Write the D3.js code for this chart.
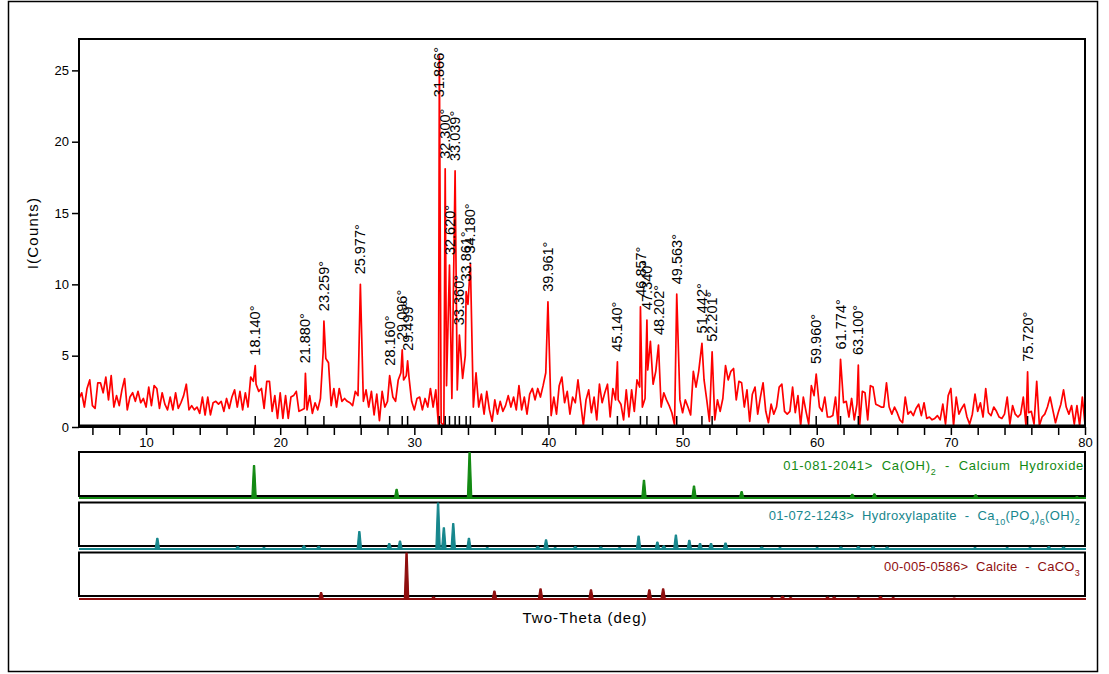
<!DOCTYPE html>
<html>
<head>
<meta charset="utf-8">
<script src="https://cdn.jsdelivr.net/npm/d3@7"></script>
<style>
  html, body { margin: 0; padding: 0; background: #fff; }
  svg { display: block; font-family: "Liberation Sans", Arial, sans-serif; }
  .legend { white-space: pre; }
</style>
</head>
<body>
<svg id="chart" width="1109" height="674"></svg>
<script>
// ---------------- DATA ----------------
const angleStart = 5;
const angleStep = 0.2;
// measured background counts, one value per 0.2 deg from 5.0 to 80.0
const backgroundCounts = [
  2.0, 2.4, 1.4, 2.7, 3.3,   1.5, 1.3, 3.1, 3.1, 2.4,   3.5, 1.9, 3.6, 1.4, 2.2,
  1.5, 2.6, 3.4, 1.2, 2.1,   2.4, 1.8, 2.5, 1.7, 2.0,   1.4, 2.8, 1.5, 2.9, 2.7,
  1.3, 2.4, 1.6, 1.2, 2.1,   1.2, 2.4, 1.3, 1.7, 2.2,   3.0, 1.2, 1.5, 1.2, 1.4,
  0.96, 2.1, 0.84, 2.1, 0.85, 1.7, 1.8, 1.6, 1.8, 1.1,  2.0, 1.3, 2.1, 2.6, 1.4,
  2.5, 1.2, 2.4, 1.4, 3.5,   3.2, 3.0, 2.5, 2.7, 1.3,   3.2, 3.2, 1.1, 2.2, 0.6,
  2.4, 0.6, 2.2, 0.6, 2.1,   2.2, 2.5, 1.1, 1.2, 1.3,   1.2, 2.2, 0.96, 1.7, 1.2,
  2.0, 5.2, 4.8, 4.5, 1.5,   2.7, 1.4, 2.7, 1.8, 2.0,   1.8, 1.7, 1.5, 2.5, 2.2,
  1.9, 1.8, 2.6, 1.4, 2.5,   0.85, 2.3, 0.45, 2.5, 1.4, 1.8, 2.0, 2.1, 1.8, 3.3,
  3.8, 3.3, 3.6, 3.5, 1.8,   1.2, 2.0, 2.1, 1.2, 2.0,   1.4, 2.7, 1.4, 2.6, 0.1,
  0.3, 0.1, 2.9, 3.0, 2.0,   3.0, 2.6, 3.0, 3.4, 5.0,   8.6, 3.0, 1.4, 3.8, 1.4,
  2.3, 0.9, 2.5, 1.2, 0.4,   1.9, 0.9, 1.8, 1.1, 1.5,   2.2, 1.4, 2.1, 1.2, 2.9,
  1.2, 2.1, 0.9, 2.3, 2.7,   1.9, 2.7, 2.1, 2.9, 3.8,   2.0, 0.8, 2.1, 0.9, 2.9,
  3.5, 1.7, 2.5, 0.9, 2.1,   1.7, 3.3, 1.7, 0.1, 1.9,   2.6, 1.0, 2.1, 0.5, 3.0,
  1.7, 2.4, 3.0, 0.7, 2.7,   1.9, 1.9, 1.6, 0.5, 2.6,   0.7, 2.6, 1.1, 3.3, 2.8,
  1.4, 2.0, 4.0, 6.0, 3.0,   3.9, 2.0, 1.4, 2.4, 1.9,   1.5, 1.0, 0.14, 2.0, 1.9,
  1.0, 1.9, 1.4, 0.85, 3.9,  2.8, 3.9, 2.0, 3.3, 1.9,   0.4, 2.0, 0.5, 1.9, 1.1,
  2.0, 4.3, 3.3, 3.9, 4.1,   1.9, 3.2, 3.1, 1.4, 2.6,   0.4, 2.3, 2.8, 0.9, 2.1,
  3.1, 1.1, 0.3, 1.6, 0.9,   1.4, 2.8, 3.0, 1.1, 0.9,   1.1, 2.8, 1.0, 2.2, 0.1,
  2.1, 1.1, 0.2, 2.9, 2.2,   2.0, 1.4, 1.1, 2.1, 0.7,   0.7, 0.8, 2.1, 0.1, 2.0,
  1.7, 1.8, 0.7, 2.0, 0.5,   1.6, 0.1, 2.5, 2.4, 0.5,   2.9, 2.8, 1.6, 1.5, 1.4,
  1.4, 3.1, 1.4, 0.9, 1.4,   1.0, 0.5, 0.3, 2.1, 0.9,   1.1, 0.8, 1.3, 1.6, 0.8,
  1.7, 0.6, 0.7, 0.5, 0.6,   0.8, 0.5, 1.6, 0.2, 2.2,   2.7, 0.1, 2.1, 0.9, 1.3,
  1.6, 0.7, 0.2, 0.9, 2.3,   1.1, 1.7, 0.7, 2.7, 1.0,   0.8, 1.4, 1.1, 0.7, 0.6,
  0.9, 2.1, 0.2, 1.5, 0.9,   0.7, 0.9, 2.1, 0.1, 1.0,   1.1, 0.2, 3.2, 0.1, 0.7,
  0.9, 1.4, 2.1, 1.2, 0.3,   1.0, 1.6, 2.6, 1.4, 0.9,   1.5, 0.2, 1.5, 0.1, 2.1,
  0.2
];

// labelled peaks
const peakAngles = [18.140, 21.880, 23.259, 25.977, 28.160, 29.096, 29.499, 31.866, 32.300, 32.620,
  33.039, 33.360, 33.861, 34.180, 39.961, 45.140, 46.857, 47.340, 48.202, 49.563,
  51.442, 52.201, 59.960, 61.774, 63.100, 75.720];
const peakCounts = [4.3, 3.76, 7.42, 10.0, 3.6, 5.4, 4.64, 26.0, 18.1, 11.35,
  17.95, 6.44, 9.5, 11.46, 8.78, 4.57, 8.43, 7.5, 5.74, 9.31,
  5.86, 5.27, 3.71, 4.74, 4.34, 3.87];

// reference patterns (two-theta, relative intensity %)
const cohAngles = [18.05, 28.68, 34.12, 47.12, 50.85, 54.40, 62.65, 64.30, 71.85, 79.40];
const cohIntensity = [71, 19, 100, 39, 26, 14, 8, 9, 7, 3];
const hapAngles = [10.84, 16.83, 18.79, 21.77, 22.87, 25.90, 28.13, 28.93, 31.77, 32.20, 32.90, 34.07,
  35.44, 39.20, 39.82, 40.50, 42.00, 43.90, 45.30, 46.72, 48.12, 48.60, 49.50, 50.50, 51.30, 52.12,
  53.20, 55.90, 57.26, 60.03, 61.80, 63.10, 64.20, 65.25, 71.80, 74.20, 75.90, 77.30, 78.40];
const hapIntensity = [23, 5, 3, 7, 6, 38, 12, 17, 100, 46, 55, 23,
  3, 6, 20, 3, 5, 4, 3, 28, 15, 7, 30, 19, 12, 12,
  13, 4, 3, 3, 4, 5, 6, 4, 3, 3, 3, 5, 4];
const calAngles = [23.05, 29.42, 31.43, 35.97, 39.41, 43.17, 47.52, 48.55, 56.65, 57.45, 58.05,
  60.80, 61.30, 63.10, 64.75, 65.70, 70.25];
const calIntensity = [14, 100, 4, 17, 22, 20, 20, 22, 3, 6, 3, 4, 4, 3, 5, 3, 2];

const xTickValues = [6, 8, 10, 12, 14, 16, 18, 20, 22, 24, 26, 28, 30, 32, 34, 36, 38, 40, 42, 44,
  46, 48, 50, 52, 54, 56, 58, 60, 62, 64, 66, 68, 70, 72, 74, 76, 78, 80];
const xTickLabels = [10, 20, 30, 40, 50, 60, 70, 80];
const yTickValues = [0, 5, 10, 15, 20, 25];

const xAxisTitle = "Two-Theta (deg)";
const yAxisTitle = "I(Counts)";
const legendEntries = [
  { color: "#138a13", parts: [["01-081-2041>  Ca(OH"], [")"], ["2", "sub"], ["  -  Calcium  Hydroxide"]] },
  { color: "#17878d", parts: [["01-072-1243>  Hydroxylapatite  -  Ca"], ["10", "sub"], ["(PO"], ["4", "sub"], [")"], ["6", "sub"], ["(OH)"], ["2", "sub"]] },
  { color: "#8f0f0f", parts: [["00-005-0586>  Calcite  -  CaCO"], ["3", "sub"]] }
];

// ---------------- BUILD ----------------
const svg = d3.select("#chart");
svg.append("rect").attr("width", 1109).attr("height", 674).attr("fill", "#fff");
// outer frame
svg.append("rect").attr("x", 8.5).attr("y", 1.5).attr("width", 1089).attr("height", 670)
  .attr("fill", "none").attr("stroke", "#000").attr("stroke-width", 1.5);

const plot = { left: 79, right: 1085, top: 39, bottom: 427 };
const x = d3.scaleLinear().domain([5, 80]).range([plot.left, plot.right]);
const y = d3.scaleLinear().domain([0, 27.2]).range([plot.bottom, plot.top]);

// merge background grid with labelled peaks
const gridPts = backgroundCounts.map((c, i) => ({ a: angleStart + i * angleStep, c }));
const pts = gridPts.filter(p => !peakAngles.some(a => Math.abs(a - p.a) < 0.05))
  .concat(peakAngles.map((a, i) => ({ a, c: peakCounts[i] })))
  .sort((p, q) => p.a - q.a);

svg.append("clipPath").attr("id", "clip").append("rect")
  .attr("x", plot.left).attr("y", plot.top).attr("width", plot.right - plot.left).attr("height", plot.bottom - plot.top);

svg.append("path").datum(pts)
  .attr("clip-path", "url(#clip)")
  .attr("fill", "none").attr("stroke", "#ff0000").attr("stroke-width", 1.7).attr("stroke-linejoin", "round")
  .attr("d", d3.line().x(d => x(d.a)).y(d => y(d.c)));

// frame
svg.append("rect").attr("x", plot.left).attr("y", plot.top)
  .attr("width", plot.right - plot.left).attr("height", plot.bottom - plot.top)
  .attr("fill", "none").attr("stroke", "#000").attr("stroke-width", 2);

// Y axis
const yAxis = svg.append("g").attr("transform", `translate(${plot.left},0)`)
  .call(d3.axisLeft(y).tickValues(yTickValues).tickSize(7).tickPadding(3));
yAxis.select(".domain").remove();
yAxis.selectAll("line").attr("stroke-width", 1.5);
yAxis.selectAll("text").attr("font-size", 13).attr("font-family", "Liberation Sans, Arial").attr("fill", "#000");

// X axis
const xAxis = svg.append("g").attr("transform", `translate(0,${plot.bottom})`)
  .call(d3.axisBottom(x).tickValues(xTickValues).tickSize(8).tickPadding(3)
    .tickFormat(d => xTickLabels.includes(d) ? d : ""));
xAxis.select(".domain").remove();
xAxis.selectAll("line").attr("stroke-width", 1.5);
xAxis.selectAll("text").attr("font-size", 13).attr("font-family", "Liberation Sans, Arial").attr("fill", "#000");
svg.append("line").attr("x1", plot.left).attr("x2", plot.right).attr("y1", plot.bottom - 1).attr("y2", plot.bottom - 1)
  .attr("stroke", "#000").attr("stroke-width", 3);

// peak markers on axis
svg.append("g").selectAll("line").data(peakAngles).join("line")
  .attr("x1", d => x(d)).attr("x2", d => x(d))
  .attr("y1", plot.bottom - 1).attr("y2", plot.bottom - 11)
  .attr("stroke", "#000").attr("stroke-width", 1.5);

// peak labels
const lbl = svg.append("g").selectAll("text").data(peakAngles).join("text")
  .attr("font-size", 14.5).attr("fill", "#000")
  .attr("dy", "0.35em")
  .text(d => d.toFixed(3) + "°");
lbl.each(function (d, i) {
  const len = this.getComputedTextLength();
  const py = y(peakCounts[i]);
  const yy = Math.max(py - 10, plot.top + 8 + len);
  d3.select(this).attr("transform", `translate(${x(d)},${yy}) rotate(-90)`);
});

// axis titles
svg.append("text").attr("transform", "translate(38,233) rotate(-90)")
  .attr("text-anchor", "middle").attr("font-size", 15).attr("letter-spacing", 1.2).text(yAxisTitle);
svg.append("text").attr("x", 585).attr("y", 623).attr("text-anchor", "middle")
  .attr("font-size", 15).attr("letter-spacing", 1).text(xAxisTitle);

// reference pattern panels
const panels = [
  { top: 452, bottom: 496, base: 498, angles: cohAngles, inten: cohIntensity, legendY: 470, spacing: 0.7 },
  { top: 502.5, bottom: 546, base: 549, angles: hapAngles, inten: hapIntensity, legendY: 520, spacing: 0.35 },
  { top: 552.5, bottom: 596, base: 599, angles: calAngles, inten: calIntensity, legendY: 571, spacing: 0.25 }
];
panels.forEach((p, k) => {
  const col = legendEntries[k].color;
  const g = svg.append("g");
  g.append("rect").attr("x", plot.left).attr("y", p.top).attr("width", plot.right - plot.left)
    .attr("height", p.bottom - p.top).attr("fill", "none").attr("stroke", "#000").attr("stroke-width", 2);
  const iy = d3.scaleLinear().domain([0, 100]).range([p.base, p.top + 0.5]);
  g.append("line").attr("x1", plot.left).attr("x2", plot.right + 1).attr("y1", p.base).attr("y2", p.base)
    .attr("stroke", col).attr("stroke-width", 2.2);
  g.selectAll("path").data(p.angles).join("path")
    .attr("fill", col).attr("stroke", col).attr("stroke-width", 1.2).attr("stroke-linejoin", "round")
    .attr("d", (a, i) => {
      const cx = x(a), top = iy(p.inten[i]);
      return `M${cx - 2.2},${p.base} L${cx - 0.6},${top} L${cx + 0.6},${top} L${cx + 2.2},${p.base} Z`;
    });
  const t = g.append("text").attr("class", "legend")
    .attr("x", k === 0 ? plot.right - 1 : plot.right - 5).attr("y", p.legendY)
    .attr("text-anchor", "end").attr("font-size", 13).attr("letter-spacing", p.spacing).attr("fill", col);
  legendEntries[k].parts.forEach(part => {
    const ts = t.append("tspan").text(part[0]);
    if (part[1] === "sub") ts.attr("font-size", 9).attr("baseline-shift", "sub");
  });
});
</script>
</body>
</html>
